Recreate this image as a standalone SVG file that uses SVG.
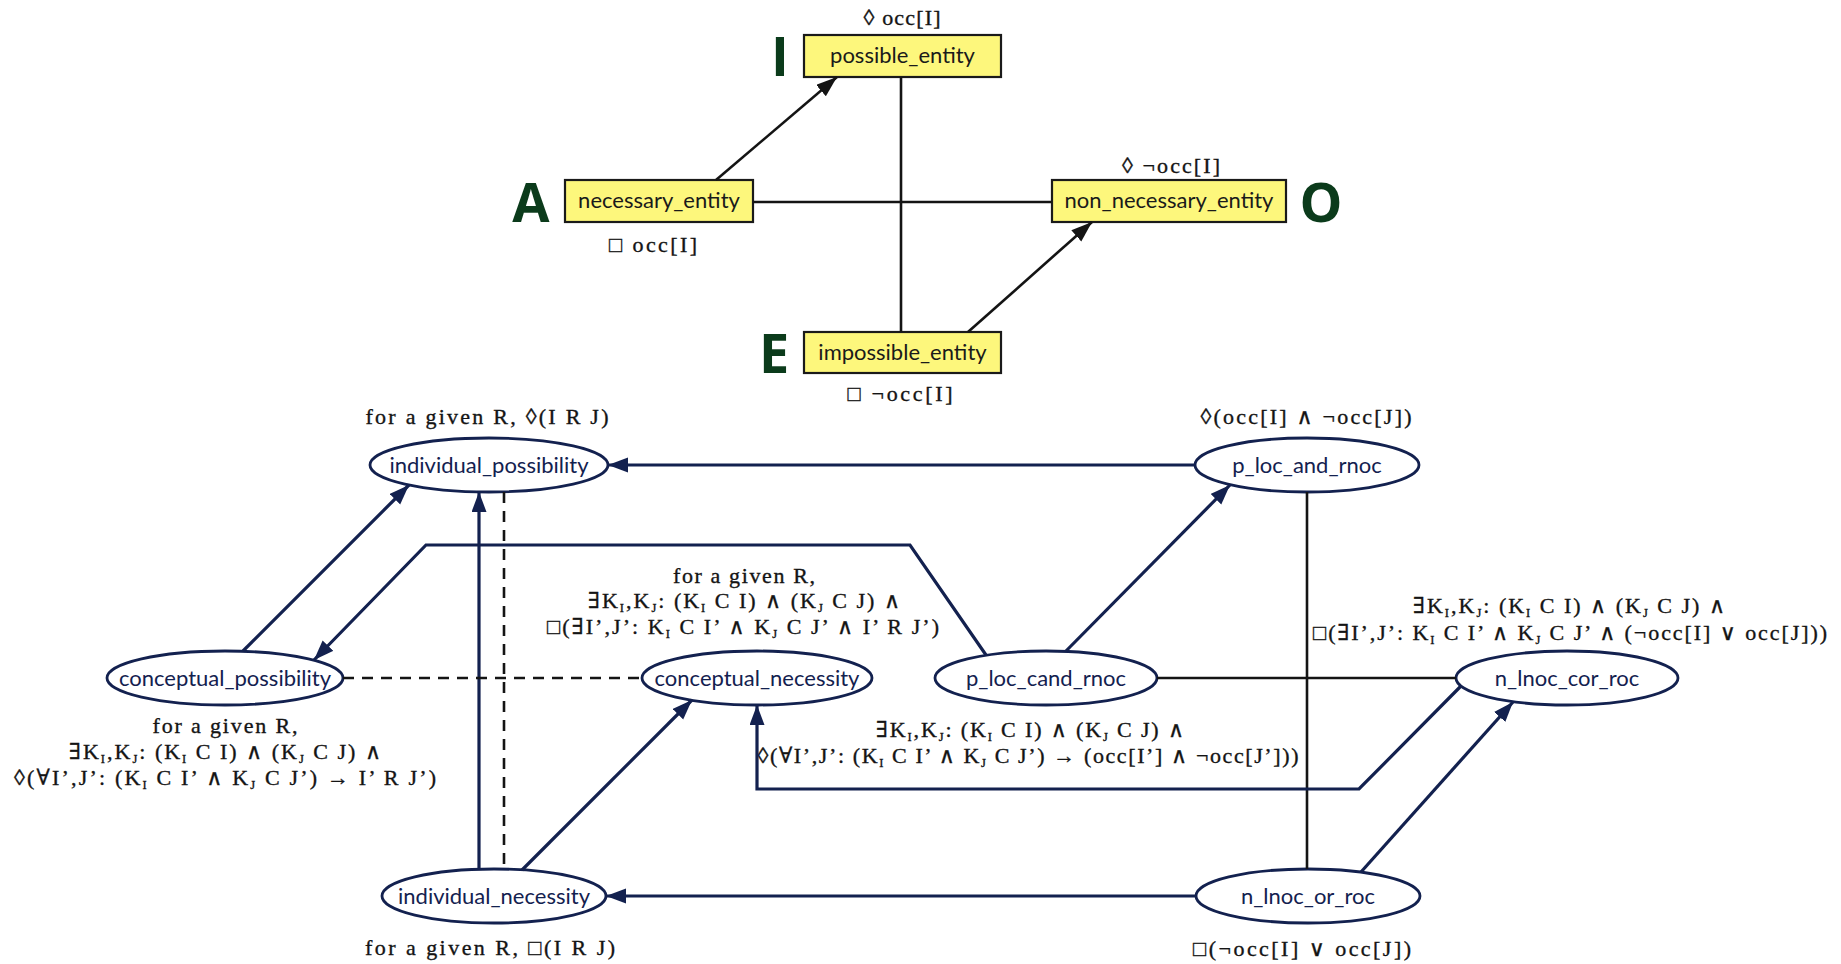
<svg xmlns="http://www.w3.org/2000/svg" width="1841" height="964" viewBox="0 0 1841 964">
  <style>
    .box { fill: #fdf77c; stroke: #1a1a1a; stroke-width: 2.2; }
    .boxlbl { font-family: Lato, "Liberation Sans", sans-serif; font-size: 22px; fill: #1a1a1a; text-anchor: middle; }
    .big { font-family: "Open Sans", "Liberation Sans", sans-serif; font-weight: bold; font-size: 54px; fill: #0b3b1b; text-anchor: middle; }
    .ell { fill: #ffffff; stroke: #13214f; stroke-width: 2.8; }
    .elbl { font-family: Lato, "Liberation Sans", sans-serif; font-size: 22px; fill: #13214f; text-anchor: middle; }
    .math { font-family: "Liberation Serif", "DejaVu Serif", serif; font-size: 22px; fill: #141414; text-anchor: middle; stroke: #141414; stroke-width: 0.35; }
    .sb { font-size: 12.5px; }
    .blk { fill: none; stroke: #141414; stroke-width: 2.6; }
    .nav { fill: none; stroke: #13214f; stroke-width: 3.2; }
    .dash { fill: none; stroke: #141414; stroke-width: 2.6; stroke-dasharray: 11 8; }
  </style>
  <defs>
    <marker id="ahBlack" markerUnits="userSpaceOnUse" markerWidth="24" markerHeight="16" refX="21" refY="7.5" orient="auto">
      <path d="M0,0 L21,7.5 L0,15 z" fill="#141414"/>
    </marker>
    <marker id="ahNavy" markerUnits="userSpaceOnUse" markerWidth="24" markerHeight="16" refX="20" refY="7.5" orient="auto">
      <path d="M0,0 L20,7.5 L0,15 z" fill="#13214f"/>
    </marker>
  </defs>

  <rect width="1841" height="964" fill="#ffffff"/>

  <!-- square of opposition: entity modalities -->
  <g id="possible_entity">
    <rect class="box" x="804" y="35" width="197" height="42"/>
    <text class="boxlbl" x="902.5" y="63">possible_entity</text>
    <text class="big" x="780" y="76">I</text>
    <text class="math" x="902" y="25" textLength="77">◊ occ[I]</text>
  </g>
  <g id="necessary_entity">
    <rect class="box" x="565" y="180" width="188" height="42"/>
    <text class="boxlbl" x="659" y="208">necessary_entity</text>
    <text class="big" x="531" y="222">A</text>
    <text class="math" x="653" y="252" textLength="88">□ occ[I]</text>
  </g>
  <g id="non_necessary_entity">
    <rect class="box" x="1052" y="180" width="234" height="42"/>
    <text class="boxlbl" x="1169" y="208">non_necessary_entity</text>
    <text class="big" x="1321" y="222">O</text>
    <text class="math" x="1171" y="173" textLength="98">◊ ¬occ[I]</text>
  </g>
  <g id="impossible_entity">
    <rect class="box" x="804" y="332" width="197" height="41"/>
    <text class="boxlbl" x="902.5" y="360">impossible_entity</text>
    <text class="big" x="774" y="373">E</text>
    <text class="math" x="900" y="401" textLength="105">□ ¬occ[I]</text>
  </g>

  <!-- relation modalities -->
  <g id="individual_possibility">
    <ellipse class="ell" cx="489" cy="465" rx="119" ry="27"/>
    <text class="elbl" x="489" y="473">individual_possibility</text>
    <text class="math" x="487" y="424" textLength="243">for a given R, ◊(I R J)</text>
  </g>
  <g id="p_loc_and_rnoc">
    <ellipse class="ell" cx="1307" cy="465" rx="112" ry="27"/>
    <text class="elbl" x="1307" y="473">p_loc_and_rnoc</text>
    <text class="math" x="1306" y="424" textLength="211">◊(occ[I] ∧ ¬occ[J])</text>
  </g>
  <g id="conceptual_possibility">
    <ellipse class="ell" cx="225" cy="678" rx="118" ry="27"/>
    <text class="elbl" x="225" y="686">conceptual_possibility</text>
    <text class="math" x="225" y="733" textLength="145">for a given R,</text>
    <text class="math" x="225" y="759" textLength="312">∃K<tspan class="sb" dy="3.5">I</tspan><tspan dy="-3.5">,K</tspan><tspan class="sb" dy="3.5">J</tspan><tspan dy="-3.5">: (K</tspan><tspan class="sb" dy="3.5">I</tspan><tspan dy="-3.5"> C I) ∧ (K</tspan><tspan class="sb" dy="3.5">J</tspan><tspan dy="-3.5"> C J) ∧</tspan></text>
    <text class="math" x="225" y="785" textLength="422">◊(∀I’,J’: (K<tspan class="sb" dy="3.5">I</tspan><tspan dy="-3.5"> C I’ ∧ K</tspan><tspan class="sb" dy="3.5">J</tspan><tspan dy="-3.5"> C J’) → I’ R J’)</tspan></text>
  </g>
  <g id="conceptual_necessity">
    <ellipse class="ell" cx="757" cy="678" rx="115" ry="27"/>
    <text class="elbl" x="757" y="686">conceptual_necessity</text>
    <text class="math" x="744" y="583" textLength="142">for a given R,</text>
    <text class="math" x="744" y="608" textLength="312">∃K<tspan class="sb" dy="3.5">I</tspan><tspan dy="-3.5">,K</tspan><tspan class="sb" dy="3.5">J</tspan><tspan dy="-3.5">: (K</tspan><tspan class="sb" dy="3.5">I</tspan><tspan dy="-3.5"> C I) ∧ (K</tspan><tspan class="sb" dy="3.5">J</tspan><tspan dy="-3.5"> C J) ∧</tspan></text>
    <text class="math" x="743" y="634" textLength="392">□(∃I’,J’: K<tspan class="sb" dy="3.5">I</tspan><tspan dy="-3.5"> C I’ ∧ K</tspan><tspan class="sb" dy="3.5">J</tspan><tspan dy="-3.5"> C J’ ∧ I’ R J’)</tspan></text>
  </g>
  <g id="p_loc_cand_rnoc">
    <ellipse class="ell" cx="1046" cy="678" rx="111" ry="27"/>
    <text class="elbl" x="1046" y="686">p_loc_cand_rnoc</text>
    <text class="math" x="1030" y="737" textLength="308">∃K<tspan class="sb" dy="3.5">I</tspan><tspan dy="-3.5">,K</tspan><tspan class="sb" dy="3.5">J</tspan><tspan dy="-3.5">: (K</tspan><tspan class="sb" dy="3.5">I</tspan><tspan dy="-3.5"> C I) ∧ (K</tspan><tspan class="sb" dy="3.5">J</tspan><tspan dy="-3.5"> C J) ∧</tspan></text>
    <text class="math" x="1028" y="763" textLength="541">◊(∀I’,J’: (K<tspan class="sb" dy="3.5">I</tspan><tspan dy="-3.5"> C I’ ∧ K</tspan><tspan class="sb" dy="3.5">J</tspan><tspan dy="-3.5"> C J’) → (occ[I’] ∧ ¬occ[J’]))</tspan></text>
  </g>
  <g id="n_lnoc_cor_roc">
    <ellipse class="ell" cx="1567" cy="678" rx="111" ry="27"/>
    <text class="elbl" x="1567" y="686">n_lnoc_cor_roc</text>
    <text class="math" x="1569" y="613" textLength="312">∃K<tspan class="sb" dy="3.5">I</tspan><tspan dy="-3.5">,K</tspan><tspan class="sb" dy="3.5">J</tspan><tspan dy="-3.5">: (K</tspan><tspan class="sb" dy="3.5">I</tspan><tspan dy="-3.5"> C I) ∧ (K</tspan><tspan class="sb" dy="3.5">J</tspan><tspan dy="-3.5"> C J) ∧</tspan></text>
    <text class="math" x="1570" y="640" textLength="514">□(∃I’,J’: K<tspan class="sb" dy="3.5">I</tspan><tspan dy="-3.5"> C I’ ∧ K</tspan><tspan class="sb" dy="3.5">J</tspan><tspan dy="-3.5"> C J’ ∧ (¬occ[I] ∨ occ[J]))</tspan></text>
  </g>
  <g id="individual_necessity">
    <ellipse class="ell" cx="494" cy="896" rx="112" ry="27"/>
    <text class="elbl" x="494" y="904">individual_necessity</text>
    <text class="math" x="490" y="955" textLength="250">for a given R, □(I R J)</text>
  </g>
  <g id="n_lnoc_or_roc">
    <ellipse class="ell" cx="1308" cy="896" rx="112" ry="27"/>
    <text class="elbl" x="1308" y="904">n_lnoc_or_roc</text>
    <text class="math" x="1302" y="956" textLength="218">□(¬occ[I] ∨ occ[J])</text>
  </g>

  <!-- connectors -->
  <g id="connectors">
    <!-- square of opposition -->
    <line class="blk" x1="901" y1="77" x2="901" y2="332"/>
    <line class="blk" x1="753" y1="202" x2="1052" y2="202"/>
    <line class="blk" x1="716" y1="180" x2="837" y2="77" marker-end="url(#ahBlack)"/>
    <line class="blk" x1="968" y1="332" x2="1092" y2="222" marker-end="url(#ahBlack)"/>

    <!-- relation lattice -->
    <line class="nav" x1="1195" y1="465" x2="608" y2="465" marker-end="url(#ahNavy)"/>
    <line class="nav" x1="243" y1="651" x2="409" y2="485" marker-end="url(#ahNavy)"/>
    <polyline class="nav" points="986,655 910,545 426,545 314,660" marker-end="url(#ahNavy)"/>
    <line class="nav" x1="479" y1="869" x2="479" y2="492" marker-end="url(#ahNavy)"/>
    <line class="dash" x1="504" y1="492" x2="504" y2="869"/>
    <line class="dash" x1="343" y1="678" x2="642" y2="678"/>
    <line class="nav" x1="522" y1="870" x2="692" y2="700" marker-end="url(#ahNavy)"/>
    <line class="nav" x1="1066" y1="651" x2="1230" y2="485" marker-end="url(#ahNavy)"/>
    <line class="blk" x1="1157" y1="678" x2="1456" y2="678"/>
    <line class="blk" x1="1307" y1="492" x2="1307" y2="869"/>
    <polyline class="nav" points="1461,686 1359,789 757,789 757,705" marker-end="url(#ahNavy)"/>
    <line class="nav" x1="1361" y1="872" x2="1513" y2="702" marker-end="url(#ahNavy)"/>
    <line class="nav" x1="1196" y1="896" x2="606" y2="896" marker-end="url(#ahNavy)"/>
  </g>
</svg>
